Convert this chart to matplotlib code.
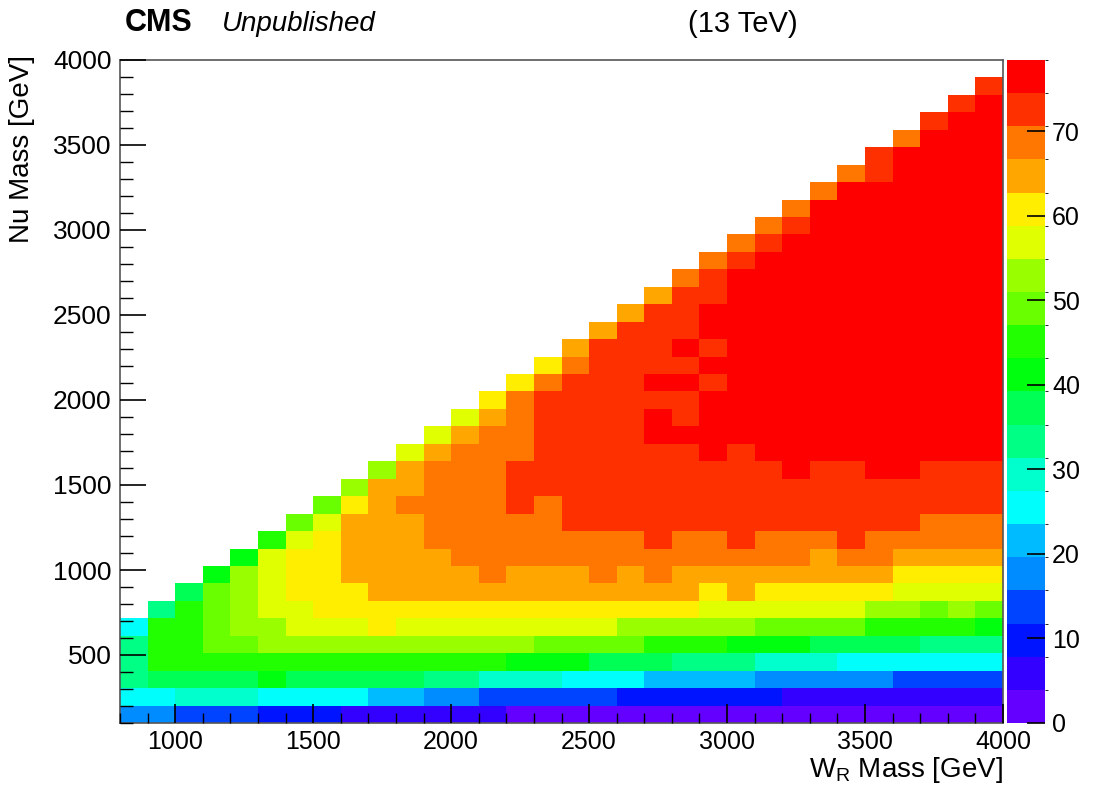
import colorsys
import numpy as np
import matplotlib
matplotlib.use('Agg')
import matplotlib.pyplot as plt
from matplotlib.colors import ListedColormap, BoundaryNorm
from matplotlib.ticker import MultipleLocator

plt.rcParams['font.family'] = ['Liberation Sans', 'DejaVu Sans']

#%% data: efficiency map, one list per Nu mass bin (from bottom), right aligned on the WR bins
wr_edges = np.arange(800, 4001, 100)       # 32 WR bins
nu_edges = np.linspace(100, 4000, 39)      # 38 Nu bins
z_max = 78.4
cbar_ticks = [0, 10, 20, 30, 40, 50, 60, 70]

eff_rows = [
    [18, 18, 14, 14, 14, 10, 10, 10, 6, 6, 6, 6, 6, 6, 2, 2, 2, 2, 2, 2, 2, 2, 2, 2, 2, 2, 2, 2, 2, 2, 2, 2],
    [25, 25, 29, 29, 29, 25, 25, 25, 25, 22, 22, 18, 18, 14, 14, 14, 14, 14, 10, 10, 10, 10, 10, 10, 6, 6, 6, 6, 6, 6, 6, 6],
    [33, 37, 37, 37, 37, 41, 37, 37, 37, 37, 37, 33, 33, 29, 29, 29, 25, 25, 25, 22, 22, 22, 22, 18, 18, 18, 18, 18, 14, 14, 14, 14],
    [33, 45, 45, 45, 45, 45, 45, 45, 45, 45, 45, 45, 45, 45, 41, 41, 41, 37, 37, 37, 33, 33, 33, 29, 29, 29, 25, 25, 25, 25, 25, 25],
    [33, 45, 45, 49, 49, 53, 53, 53, 53, 53, 53, 53, 53, 53, 53, 49, 49, 49, 49, 45, 45, 45, 41, 41, 41, 37, 37, 37, 37, 33, 33, 33],
    [25, 45, 45, 49, 53, 53, 57, 57, 57, 61, 57, 57, 57, 57, 57, 57, 57, 57, 53, 53, 53, 53, 53, 49, 49, 49, 49, 45, 45, 45, 45, 41],
    [33, 45, 49, 53, 57, 57, 61, 61, 61, 61, 61, 61, 61, 61, 61, 61, 61, 61, 61, 61, 57, 57, 57, 57, 57, 57, 53, 53, 49, 53, 49],
    [37, 49, 53, 57, 61, 61, 61, 65, 65, 65, 65, 65, 65, 65, 65, 65, 65, 65, 65, 61, 65, 61, 61, 61, 61, 61, 57, 57, 57, 57],
    [41, 53, 57, 61, 61, 65, 65, 65, 65, 65, 69, 65, 65, 65, 69, 65, 69, 65, 65, 65, 65, 65, 65, 65, 65, 61, 61, 61, 61],
    [41, 57, 61, 61, 65, 65, 65, 65, 69, 69, 69, 69, 69, 69, 69, 69, 69, 69, 69, 69, 69, 65, 69, 69, 65, 65, 65, 65],
    [45, 57, 61, 65, 65, 65, 69, 69, 69, 69, 69, 69, 69, 69, 72, 69, 69, 72, 69, 69, 69, 72, 69, 69, 69, 69, 69],
    [49, 57, 65, 65, 65, 69, 69, 69, 69, 69, 72, 72, 72, 72, 72, 72, 72, 72, 72, 72, 72, 72, 72, 69, 69, 69],
    [49, 61, 65, 69, 69, 69, 69, 72, 69, 72, 72, 72, 72, 72, 72, 72, 72, 72, 72, 72, 72, 72, 72, 72, 72],
    [53, 65, 65, 69, 69, 69, 72, 72, 72, 72, 72, 72, 72, 72, 72, 72, 72, 72, 72, 72, 72, 72, 72, 72],
    [53, 65, 69, 69, 69, 72, 72, 72, 72, 72, 72, 72, 72, 72, 72, 76, 72, 72, 76, 76, 72, 72, 72],
    [57, 65, 69, 69, 69, 72, 72, 72, 72, 72, 72, 76, 72, 76, 76, 76, 76, 76, 76, 76, 76, 76],
    [57, 65, 69, 69, 72, 72, 72, 72, 76, 76, 76, 76, 76, 76, 76, 76, 76, 76, 76, 76, 76],
    [57, 65, 69, 72, 72, 72, 72, 76, 72, 76, 76, 76, 76, 76, 76, 76, 76, 76, 76, 76],
    [61, 69, 72, 72, 72, 72, 72, 72, 76, 76, 76, 76, 76, 76, 76, 76, 76, 76, 76],
    [61, 69, 72, 72, 72, 76, 76, 72, 76, 76, 76, 76, 76, 76, 76, 76, 76, 76],
    [61, 69, 72, 72, 72, 72, 76, 76, 76, 76, 76, 76, 76, 76, 76, 76, 76],
    [65, 72, 72, 72, 76, 72, 76, 76, 76, 76, 76, 76, 76, 76, 76, 76],
    [65, 72, 72, 72, 76, 76, 76, 76, 76, 76, 76, 76, 76, 76, 76],
    [65, 72, 72, 76, 76, 76, 76, 76, 76, 76, 76, 76, 76, 76],
    [65, 72, 72, 76, 76, 76, 76, 76, 76, 76, 76, 76, 76],
    [69, 72, 76, 76, 76, 76, 76, 76, 76, 76, 76, 76],
    [69, 72, 76, 76, 76, 76, 76, 76, 76, 76, 76],
    [69, 72, 76, 76, 76, 76, 76, 76, 76, 76],
    [69, 72, 76, 76, 76, 76, 76, 76, 76],
    [69, 76, 76, 76, 76, 76, 76, 76],
    [69, 76, 76, 76, 76, 76, 76],
    [69, 72, 76, 76, 76, 76],
    [72, 76, 76, 76, 76],
    [69, 76, 76, 76],
    [72, 76, 76],
    [72, 76],
    [72],
]

#%% grid (empty bins stay NaN -> white)
Z = np.full((len(nu_edges) - 1, len(wr_edges) - 1), np.nan)
for j, row in enumerate(eff_rows):
    Z[j, Z.shape[1] - len(row):] = row

#%% ROOT "pretty palette" (violet -> red), 20 contour levels
n_cont = 20
cols = []
for k in range(n_cont):
    idx = int((k + 0.99) * 50 / n_cont)
    hue = 280 - (idx + 1) * 5.6
    cols.append(colorsys.hls_to_rgb(hue / 360., 0.5, 1.0))
cmap = ListedColormap(cols)
cmap.set_bad('white')
levels = np.linspace(0, z_max, n_cont + 1)
norm = BoundaryNorm(levels, cmap.N)

#%% plot
W, H = 1102, 788
fig = plt.figure(figsize=(W / 100, H / 100), dpi=100)
ax = fig.add_axes([120 / W, 1 - 723 / H, 883 / W, 663 / H])
mesh = ax.pcolormesh(wr_edges, nu_edges, Z, cmap=cmap, norm=norm)
ax.set_xlim(800, 4000)
ax.set_ylim(100, 4000)

ax.xaxis.set_major_locator(MultipleLocator(500))
ax.xaxis.set_minor_locator(MultipleLocator(100))
ax.yaxis.set_major_locator(MultipleLocator(500))
ax.yaxis.set_minor_locator(MultipleLocator(100))
ax.set_xticks([1000, 1500, 2000, 2500, 3000, 3500, 4000])
ax.tick_params(axis='x', which='major', direction='in', length=14, width=1.2,
               labelsize=18, pad=5)
ax.tick_params(axis='x', which='minor', direction='in', length=7, width=1)
ax.tick_params(axis='y', which='major', direction='in', length=19, width=1.2,
               labelsize=19, pad=6)
ax.tick_params(axis='y', which='minor', direction='in', length=9, width=1)
for s in ax.spines.values():
    s.set_color('#555555')
    s.set_linewidth(1.2)
ax.set_axisbelow(False)

#%% colour bar
cax = fig.add_axes([1007 / W, 1 - 723 / H, 38 / W, 663 / H])
cb = fig.colorbar(mesh, cax=cax, ticks=cbar_ticks)
cb.outline.set_visible(False)
cax.tick_params(direction='in', length=13, width=1.2, labelsize=18, pad=5)

#%% texts
fig.text(125 / W, 1 - 23 / H, 'CMS', fontsize=22, fontweight='bold', va='center')
fig.text(222 / W, 1 - 24 / H, 'Unpublished', fontsize=20, style='italic', va='center')
fig.text(688 / W, 1 - 24 / H, '(13 TeV)', fontsize=21, va='center')
fig.text(1003 / W, 1 - 770 / H, r'$\mathregular{W_R}$ Mass [GeV]', fontsize=20,
         ha='right', va='center')
fig.text(22 / W, 1 - 55 / H, 'Nu Mass [GeV]', fontsize=20, rotation=90,
         ha='center', va='top')

fig.savefig('out.png', dpi=100)
